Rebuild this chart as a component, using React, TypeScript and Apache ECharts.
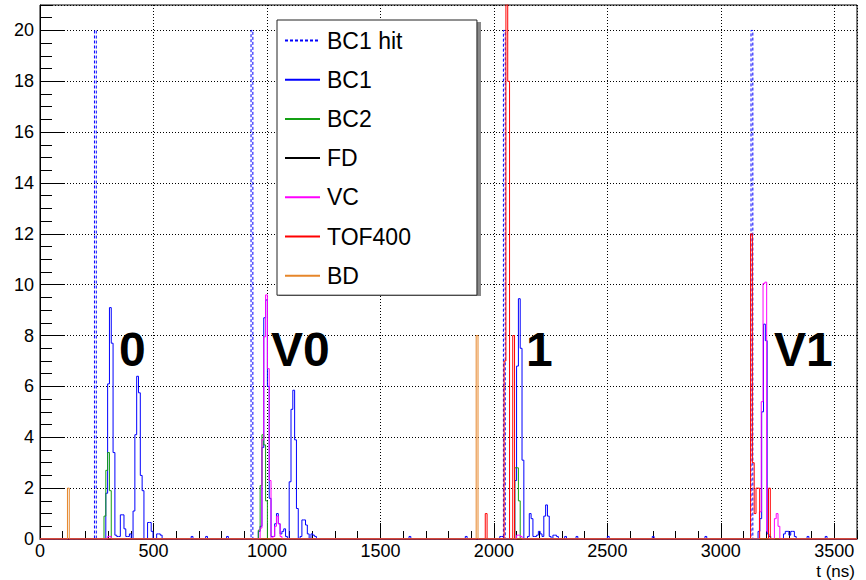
import React, { useEffect, useRef } from "react";
import * as echarts from "echarts";

// ---------- data ----------
const BIN = 8; // ns per histogram bin
const T_MIN = 0;
const T_MAX = 3600;
const Y_MIN = 0;
const Y_MAX = 21;

const SERIES_NAMES = ["BC1 hit", "BC1", "BC2", "FD", "VC", "TOF400", "BD"];
const PEAK_LABELS = ["0", "V0", "1", "V1"];

// each segment: [start time (ns), count of bin 1, count of bin 2, ...]
const BC1_HIT = [
  [240, 20],
  [930, 20],
  [2042, 20],
  [3133, 20],
];

const BC1 = [
  [290, 1.8, 6.1, 9.1, 7.7, 3.4, 0.15, 0.1, 0.1, 0.95, 0.95, 0.4, 0.1, 0.1, 0.2, 0, 1.1, 4.1, 6.4, 5.75, 2.5, 1.9, 0, 0, 0.65, 0.65, 0.3, 0, 0, 0.2, 0.2, 0.15],
  [666, 0.1],
  [730, 0.1],
  [822, 0.1],
  [962, 0.3, 0.5, 3.6, 8.7, 9.4, 6.0, 1.6, 0.1, 0.1, 0.6, 1.0, 0.6, 0.2, 0.3, 0.4, 0.1, 0, 2.25, 5.1, 5.85, 3.9, 1.2, 0, 0.1, 0.75, 0.75, 0.55, 0.2, 0, 0.2, 0.15, 0.1],
  [1626, 0.1],
  [1874, 0.1],
  [2026, 0.1, 0.1],
  [2092, 2.3, 6.8, 9.45, 7.5, 3.1, 0, 0, 0.1, 1.0, 0.8, 0.1, 0.1, 0.15, 0.3, 0.2, 0.1, 0.9, 1.34, 0.9, 0.1, 0, 0.15, 0.15, 0.1],
  [2312, 0.1],
  [2362, 0.1],
  [2500, 0.1],
  [2698, 0.1],
  [2930, 0.1],
  [3164, 0.3, 0.8, 5.0, 8.45, 7.8, 0.2, 0.1],
  [3276, 0.2, 0.3, 0.3, 0.15, 0.3, 0.3, 0.1],
  [3380, 0.1],
  [3460, 0.1],
];

const BC2 = [
  [282, 0.9, 2.7, 3.4, 1.9],
  [962, 0.35, 2.1, 4.1, 3.7, 1.5],
  [2092, 2.8, 2.8, 1.5],
];

const FD: number[][] = [];

const VC = [
  [298, 0.1, 0.1],
  [970, 0.43, 3.9, 7.95, 9.6, 6.7, 2.3, 0, 0.1, 0.5, 0.9, 0.6, 0.1],
  [2100, 0.15, 0.15, 0.1],
  [3170, 1.07, 5.4, 10.05, 10.1, 0.3],
  [3236, 0.8, 1.0, 0.5],
];

const TOF400 = [
  [1962, 1.0],
  [2045, 7.0, 25, 18.0],
  [2083, 8.0],
  [3131, 12.0, 3.0, 1.0, 2.0, 2.0],
  [3210, 2.0],
];

const BD = [
  [121, 2.0],
  [1922, 8.0],
];

// ---------- helpers ----------
function histPoints(segs: number[][]): [number, number][] {
  const sorted = [...segs].sort((a, b) => a[0] - b[0]);
  const pts: [number, number][] = [[T_MIN, 0]];
  for (const seg of sorted) {
    const start = seg[0];
    const counts = seg.slice(1);
    pts.push([start, 0]);
    counts.forEach((c, i) => {
      const x0 = start + i * BIN;
      pts.push([x0, c], [x0 + BIN, c]);
    });
    pts.push([start + counts.length * BIN, 0]);
  }
  pts.push([T_MAX, 0]);
  return pts;
}

const FONT = '"Liberation Sans", Arial, Helvetica, sans-serif';

const SERIES_DEF = [
  { name: SERIES_NAMES[0], segs: BC1_HIT, color: "#0000ff", type: [3, 2] as any },
  { name: SERIES_NAMES[1], segs: BC1, color: "#0000ff", type: "solid" },
  { name: SERIES_NAMES[2], segs: BC2, color: "#14a014", type: "solid" },
  { name: SERIES_NAMES[3], segs: FD, color: "#000000", type: "solid" },
  { name: SERIES_NAMES[4], segs: VC, color: "#ff00ff", type: "solid" },
  { name: SERIES_NAMES[5], segs: TOF400, color: "#ff0000", type: "solid" },
  { name: SERIES_NAMES[6], segs: BD, color: "#e6862a", type: "solid" },
];

export default function App() {
  const ref = useRef<HTMLDivElement>(null);

  useEffect(() => {
    if (!ref.current) return;
    const chart = echarts.init(ref.current, undefined, { renderer: "svg" });

    const peakPos = [
      { x: 119, y: 349 },
      { x: 271, y: 349 },
      { x: 526, y: 349 },
      { x: 774, y: 349 },
    ];

    const plain = (v: number) => String(v);

    const option: any = {
      animation: false,
      backgroundColor: "#ffffff",
      textStyle: { fontFamily: FONT },
      grid: {
        left: 40,
        right: 9,
        top: 5,
        bottom: 41,
        show: true,
        borderColor: "#000",
        borderWidth: 1,
      },
      xAxis: [
        {
          type: "value",
          min: T_MIN,
          max: T_MAX,
          interval: 500,
          position: "bottom",
          axisLine: { show: true, onZero: false, lineStyle: { color: "#000", width: 1 } },
          axisTick: { show: true, inside: true, length: 16, lineStyle: { color: "#000", width: 1 } },
          axisLabel: { color: "#000", fontSize: 18, margin: 3, lineHeight: 18, showMaxLabel: false, fontFamily: FONT, formatter: plain },
          splitLine: { show: true, lineStyle: { color: "#000", width: 1, type: [1, 2] } },
        },
        {
          type: "value",
          min: T_MIN,
          max: T_MAX,
          interval: 100,
          position: "bottom",
          axisLine: { show: false, onZero: false },
          axisTick: { show: true, inside: true, length: 8, lineStyle: { color: "#000", width: 1 } },
          axisLabel: { show: false },
          splitLine: { show: false },
        },
      ],
      yAxis: [
        {
          type: "value",
          min: Y_MIN,
          max: Y_MAX,
          interval: 2,
          position: "left",
          axisLine: { show: true, onZero: false, lineStyle: { color: "#000", width: 1 } },
          axisTick: { show: true, inside: true, length: 25, lineStyle: { color: "#000", width: 1 } },
          axisLabel: { color: "#000", fontSize: 18, margin: 6, showMaxLabel: false, fontFamily: FONT, formatter: plain },
          splitLine: { show: true, lineStyle: { color: "#000", width: 1, type: [1, 2] } },
        },
        {
          type: "value",
          min: Y_MIN,
          max: Y_MAX,
          interval: 0.5,
          position: "left",
          axisLine: { show: false, onZero: false },
          axisTick: { show: true, inside: true, length: 12, lineStyle: { color: "#000", width: 1 } },
          axisLabel: { show: false },
          splitLine: { show: false },
        },
      ],
      legend: {
        orient: "vertical",
        left: 277,
        top: 20,
        padding: [9, 66, 8, 7],
        itemWidth: 35,
        itemHeight: 14,
        itemGap: 16.2,
        backgroundColor: "#ffffff",
        borderColor: "#222",
        borderWidth: 1,
        selectedMode: false,
        itemStyle: { opacity: 0, borderWidth: 0, color: "rgba(0,0,0,0)" },
        textStyle: { fontSize: 23, color: "#000", fontFamily: FONT, lineHeight: 23, padding: [0, 0, 0, 2] },
        data: SERIES_NAMES,
        z: 10,
      },
      graphic: [
        {
          type: "rect",
          z: 9,
          shape: { x: 279, y: 22, width: 202, height: 274 },
          style: { fill: "#888" },
          silent: true,
        },
        ...PEAK_LABELS.map((t, i) => ({
          type: "text",
          z: 8,
          x: peakPos[i].x,
          y: peakPos[i].y,
          silent: true,
          style: {
            text: t,
            fill: "#000",
            fontSize: 48,
            fontWeight: "bold",
            fontFamily: FONT,
            textAlign: "left",
            verticalAlign: "middle",
          },
        })),
        {
          type: "text",
          z: 8,
          x: 855,
          y: 571,
          silent: true,
          style: {
            text: "t (ns)",
            fill: "#000",
            fontSize: 17,
            fontFamily: FONT,
            textAlign: "right",
            verticalAlign: "middle",
          },
        },
      ],
      series: SERIES_DEF.map((s) => ({
        name: s.name,
        type: "line",
        xAxisIndex: 0,
        yAxisIndex: 0,
        data: histPoints(s.segs),
        symbol: "none",
        showSymbol: false,
        clip: true,
        silent: true,
        lineStyle: { color: s.color, width: 1, type: s.type },
        itemStyle: { color: s.color },
        emphasis: { disabled: true },
      })),
    };

    chart.setOption(option);
    return () => chart.dispose();
  }, []);

  return (
    <div
      ref={ref}
      style={{ position: "fixed", left: 0, top: 0, width: 866, height: 580, background: "#fff" }}
    />
  );
}
